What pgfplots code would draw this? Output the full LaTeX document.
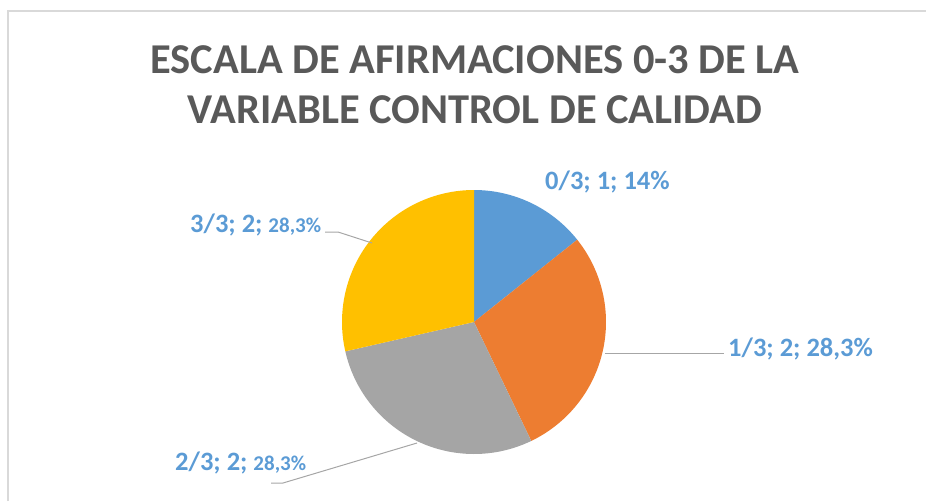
\documentclass[border=0pt]{standalone}
\usepackage{pgfplots}
\pgfplotsset{compat=1.18}
\usepackage{fontspec}
\setmainfont{Carlito}
\definecolor{cA}{HTML}{5B9BD5}
\definecolor{cB}{HTML}{ED7D31}
\definecolor{cC}{HTML}{A5A5A5}
\definecolor{cD}{HTML}{FFC000}
\definecolor{lbl}{HTML}{5B9BD5}
\definecolor{ttl}{HTML}{595959}
\definecolor{ldr}{HTML}{A6A6A6}
\definecolor{brd}{HTML}{D9D9D9}
% data: 0/3 -> 1, 1/3 -> 2, 2/3 -> 2, 3/3 -> 2
\def\vA{1}\def\vB{2}\def\vC{2}\def\vD{2}
\pgfmathsetmacro\tot{\vA+\vB+\vC+\vD}
\pgfmathsetmacro\aA{90-360*\vA/\tot}
\pgfmathsetmacro\aB{\aA-360*\vB/\tot}
\pgfmathsetmacro\aC{\aB-360*\vC/\tot}
\pgfmathsetmacro\aD{\aC-360*\vD/\tot}
\def\cx{474}\def\cy{322}\def\rr{132}
\begin{document}
\begin{tikzpicture}
\begin{axis}[
  scale only axis, width=926pt, height=501pt,
  xmin=0, xmax=926, ymin=0, ymax=501, y dir=reverse,
  hide axis, clip=false,
]
\draw[brd, line width=1.2pt] (axis cs:8,501) -- (axis cs:8,11) -- (axis cs:926,11);
\addplot[fill=cA, draw=none, domain=\aA:90, samples=60, variable=\t]
  ({\cx+\rr*cos(\t)}, {\cy-\rr*sin(\t)}) -- (axis cs:\cx,\cy) -- cycle;
\addplot[fill=cB, draw=none, domain=\aB:\aA, samples=80, variable=\t]
  ({\cx+\rr*cos(\t)}, {\cy-\rr*sin(\t)}) -- (axis cs:\cx,\cy) -- cycle;
\addplot[fill=cC, draw=none, domain=\aC:\aB, samples=80, variable=\t]
  ({\cx+\rr*cos(\t)}, {\cy-\rr*sin(\t)}) -- (axis cs:\cx,\cy) -- cycle;
\addplot[fill=cD, draw=none, domain=\aD:\aC, samples=80, variable=\t]
  ({\cx+\rr*cos(\t)}, {\cy-\rr*sin(\t)}) -- (axis cs:\cx,\cy) -- cycle;
% leader lines
\draw[ldr, line width=1pt] (axis cs:325,232) -- (axis cs:338,232) -- (axis cs:372,243);
\draw[ldr, line width=1pt] (axis cs:605,353) -- (axis cs:724,353);
\draw[ldr, line width=1pt] (axis cs:271,483) -- (axis cs:283,483) -- (axis cs:417,443);
% labels
\node[anchor=base west, inner sep=0pt, text=lbl, font=\fontsize{26.5}{30}\selectfont\bfseries] at (axis cs:545,189) {0/3; 1; 14\%};
\node[anchor=base west, inner sep=0pt, text=lbl, font=\fontsize{26.5}{30}\selectfont\bfseries] at (axis cs:728,356) {1/3; 2; 28,3\%};
\node[anchor=base west, inner sep=0pt, text=lbl, font=\fontsize{26.5}{30}\selectfont\bfseries] at (axis cs:190,232) {3/3; 2; {\fontsize{21}{25}\selectfont 28,3\%}};
\node[anchor=base west, inner sep=0pt, text=lbl, font=\fontsize{26.5}{30}\selectfont\bfseries] at (axis cs:175,470) {2/3; 2; {\fontsize{21}{25}\selectfont 28,3\%}};
% title
\node[anchor=base, inner sep=0pt, text=ttl, font=\fontsize{42.5}{50}\selectfont\bfseries] at (axis cs:475,73) {ESCALA DE AFIRMACIONES 0-3 DE LA};
\node[anchor=base, inner sep=0pt, text=ttl, font=\fontsize{42.5}{50}\selectfont\bfseries] at (axis cs:475,123) {VARIABLE CONTROL DE CALIDAD};
\end{axis}
\pgfresetboundingbox
\path (0,0) rectangle (926pt,501pt);
\end{tikzpicture}
\end{document}
